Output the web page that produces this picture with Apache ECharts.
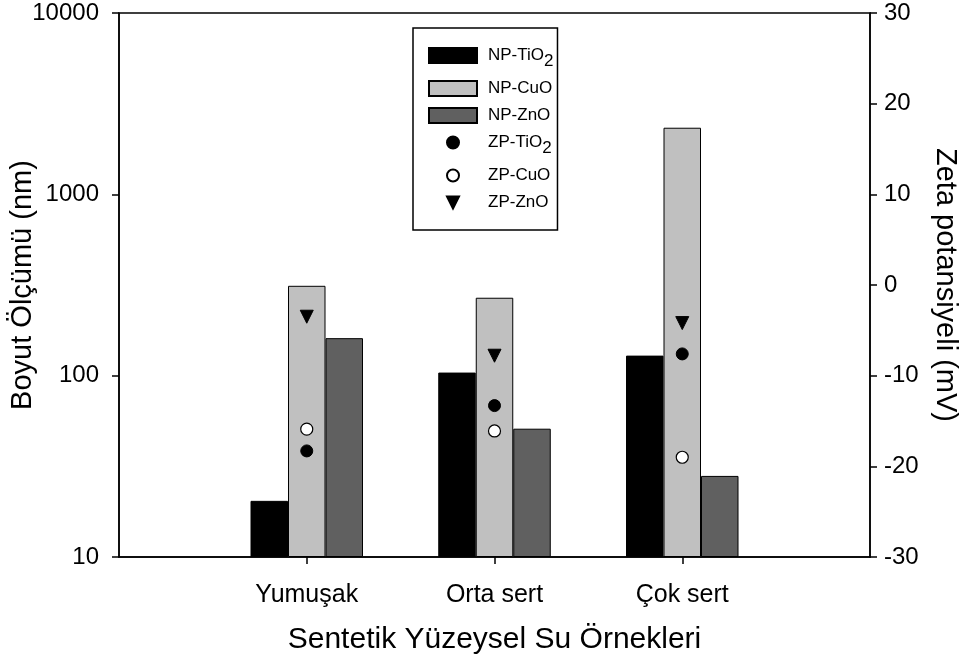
<!DOCTYPE html>
<html>
<head>
<meta charset="utf-8">
<script src="https://cdn.jsdelivr.net/npm/echarts@6/dist/echarts.min.js"></script>
<style>html,body{margin:0;padding:0;background:#fff}#c{width:962px;height:663px}</style>
</head>
<body>
<div id="c"></div>
<script>
const categories = ['Yumuşak', 'Orta sert', 'Çok sert'];
const npTiO2 = [20.4, 104, 129];
const npCuO = [313, 269, 2330];
const npZnO = [161, 51, 28];
const zpTiO2 = [-18.3, -13.3, -7.6];
const zpCuO = [-15.9, -16.1, -19.0];
const zpZnO = [-3.5, -7.8, -4.2];
const leftTicks = [10, 100, 1000, 10000];
const rightTicks = [-30, -20, -10, 0, 10, 20, 30];

const pad = arr => [null].concat(arr, [null]);
const axisCats = [''].concat(categories, ['']);
const FONT = 'Liberation Sans, Arial, sans-serif';

const chart = echarts.init(document.getElementById('c'), null, {renderer: 'canvas'});
const barBase = {
  type: 'bar', barWidth: 37.5, barGap: '0%', clip: true,
  xAxisIndex: 0, yAxisIndex: 0
};
const ptBase = {
  type: 'line', xAxisIndex: 0, yAxisIndex: 1, showSymbol: true, showAllSymbol: true,
  lineStyle: {width: 0, opacity: 0}, symbolSize: 12, z: 5
};
const legendNames = {
  'NP-TiO2': 'NP-TiO{sub|2}', 'ZP-TiO2': 'ZP-TiO{sub|2}'
};
chart.setOption({
  animation: false,
  grid: {left: 119, right: 92, top: 13, bottom: 106, show: true, borderColor: '#000', borderWidth: 1.5,
    backgroundColor: 'transparent', containLabel: false, outerBoundsMode: 'none'},
  legend: {
    left: 413, top: 28, orient: 'vertical',
    padding: [19, 4, 19, 15],
    itemWidth: 48, itemHeight: 15, itemGap: 10,
    borderColor: '#000', borderWidth: 1.5,
    data: [
      {name: 'NP-TiO2', icon: 'rect'}, {name: 'NP-CuO', icon: 'rect'}, {name: 'NP-ZnO', icon: 'rect'},
      {name: 'ZP-TiO2'}, {name: 'ZP-CuO'}, {name: 'ZP-ZnO'}
    ],
    formatter: n => legendNames[n] || n,
    textStyle: {fontFamily: FONT, fontSize: 17, color: '#000', padding: [0, 0, 0, 6],
      rich: {sub: {fontFamily: FONT, fontSize: 17, verticalAlign: 'bottom', padding: [12, 0, 0, 0], color: '#000'}}}
  },
  xAxis: [{
    type: 'category', data: axisCats, boundaryGap: false,
    axisLine: {onZero: false, lineStyle: {color: '#000', width: 1.5}},
    axisTick: {show: true, length: 7, inside: false, lineStyle: {color: '#000', width: 1.5},
      interval: (i, v) => v !== ''},
    axisLabel: {fontFamily: FONT, fontSize: 25, color: '#000', margin: 26, interval: 0},
    name: 'Sentetik Yüzeysel Su Örnekleri', nameLocation: 'middle', nameGap: 68, nameMoveOverlap: false,
    nameTextStyle: {fontFamily: FONT, fontSize: 30, color: '#000'}
  }],
  yAxis: [{
    type: 'log', logBase: 10, min: 10, max: 10000, startValue: 10,
    axisLine: {show: true, onZero: false, lineStyle: {color: '#000', width: 1.5}},
    axisTick: {show: true, length: 7, lineStyle: {color: '#000', width: 1.5}},
    minorTick: {show: false}, splitLine: {show: false},
    axisLabel: {fontFamily: FONT, fontSize: 24, color: '#000', margin: 20,
      formatter: v => leftTicks.indexOf(Math.round(v)) >= 0 ? String(Math.round(v)) : ''},
    name: 'Boyut Ölçümü (nm)', nameLocation: 'middle', nameRotate: 90, nameGap: 82, nameMoveOverlap: false,
    nameTextStyle: {fontFamily: FONT, fontSize: 29, color: '#000'}
  }, {
    type: 'value', min: rightTicks[0], max: rightTicks[rightTicks.length - 1], interval: 10,
    position: 'right',
    axisLine: {show: true, onZero: false, lineStyle: {color: '#000', width: 1.5}},
    axisTick: {show: true, length: 7, lineStyle: {color: '#000', width: 1.5}},
    splitLine: {show: false},
    axisLabel: {fontFamily: FONT, fontSize: 24, color: '#000', margin: 14},
    name: 'Zeta potansiyeli (mV)', nameLocation: 'middle', nameRotate: -90, nameGap: 60, nameMoveOverlap: false,
    nameTextStyle: {fontFamily: FONT, fontSize: 29, color: '#000'}
  }],
  series: [
    Object.assign({}, barBase, {name: 'NP-TiO2', data: pad(npTiO2), itemStyle: {color: '#000000', borderColor: '#000', borderWidth: 1}}),
    Object.assign({}, barBase, {name: 'NP-CuO', data: pad(npCuO), itemStyle: {color: '#c0c0c0', borderColor: '#000', borderWidth: 1}}),
    Object.assign({}, barBase, {name: 'NP-ZnO', data: pad(npZnO), itemStyle: {color: '#606060', borderColor: '#000', borderWidth: 1}}),
    Object.assign({}, ptBase, {name: 'ZP-TiO2', data: pad(zpTiO2), symbol: 'circle', itemStyle: {color: '#000', borderColor: '#000', borderWidth: 1}}),
    Object.assign({}, ptBase, {name: 'ZP-CuO', data: pad(zpCuO), symbol: 'circle', itemStyle: {color: '#fff', borderColor: '#000', borderWidth: 1.2}}),
    Object.assign({}, ptBase, {name: 'ZP-ZnO', data: pad(zpZnO), symbol: 'triangle', symbolRotate: 180, symbolSize: 13, itemStyle: {color: '#000', borderColor: '#000', borderWidth: 1}})
  ]
});
</script>
</body>
</html>
